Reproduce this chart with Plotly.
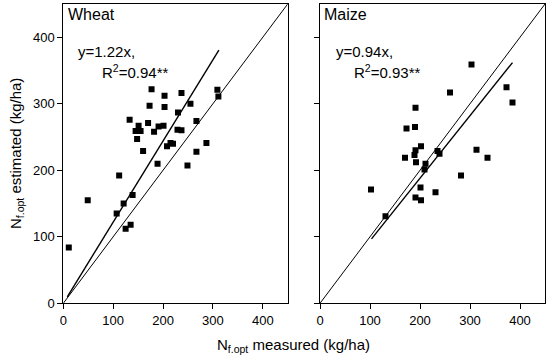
import plotly.graph_objects as go

# ---- data ----
wheat_x = [177, 203, 237, 309, 311, 173, 203, 255, 230, 133, 151, 170, 145, 155, 182, 191, 201,
           267, 229, 237, 148, 215, 220, 208, 287, 160, 267, 189, 249, 112, 139, 121, 107, 135,
           125, 49, 11]
wheat_y = [322, 312, 316, 321, 311, 297, 295, 300, 287, 276, 267, 271, 259, 259, 258, 266, 267,
           274, 261, 260, 247, 241, 240, 236, 241, 229, 228, 210, 207, 192, 163, 150, 135, 118,
           112, 155, 84]
maize_x = [303, 260, 373, 385, 191, 173, 190, 202, 191, 189, 170, 192, 211, 209, 235, 239, 313,
           335, 282, 102, 201, 231, 191, 202, 131]
maize_y = [359, 317, 325, 302, 294, 263, 265, 236, 230, 223, 219, 212, 210, 201, 229, 225, 231,
           219, 192, 171, 174, 167, 159, 155, 131]

wheat_slope = 1.22
maize_slope = 0.94
wheat_fit_range = [8, 312]
maize_fit_range = [103, 385]
one_to_one = [0, 450]

ticks = [0, 100, 200, 300, 400]
tick_labels = ["0", "100", "200", "300", "400"]

FONT = "Liberation Sans, Arial, sans-serif"

fig = go.Figure()

def add_panel(xs, ys, slope, fit_range, xa, ya):
    # 1:1 line
    fig.add_trace(go.Scatter(x=one_to_one, y=one_to_one, mode="lines",
                             line=dict(color="black", width=1),
                             xaxis=xa, yaxis=ya, showlegend=False, hoverinfo="skip"))
    # regression line
    fig.add_trace(go.Scatter(x=fit_range, y=[slope * v for v in fit_range], mode="lines",
                             line=dict(color="black", width=1.4),
                             xaxis=xa, yaxis=ya, showlegend=False, hoverinfo="skip"))
    fig.add_trace(go.Scatter(x=xs, y=ys, mode="markers",
                             marker=dict(symbol="square", size=6, color="black",
                                         line=dict(width=0)),
                             xaxis=xa, yaxis=ya, showlegend=False))

add_panel(wheat_x, wheat_y, wheat_slope, wheat_fit_range, "x", "y")
add_panel(maize_x, maize_y, maize_slope, maize_fit_range, "x2", "y2")

axis_common = dict(range=[0, 450], showline=True, mirror=True, linecolor="black", linewidth=1,
                   ticks="outside", ticklen=5, tickcolor="black", tickwidth=1,
                   tickvals=ticks, ticktext=tick_labels, showgrid=False, zeroline=False,
                   automargin=False,
                   tickfont=dict(family=FONT, size=13, color="black"))

ydom = [(356 - 303.3) / 356, (356 - 4) / 356]
fig.update_layout(
    template="none",
    width=550, height=356,
    margin=dict(l=0, r=0, t=0, b=0, pad=0),
    paper_bgcolor="white", plot_bgcolor="white",
    xaxis=dict(domain=[63.3 / 550, 287.7 / 550], anchor="y", **axis_common),
    yaxis=dict(domain=ydom, anchor="x", **axis_common),
    xaxis2=dict(domain=[320 / 550, 545 / 550], anchor="y2", **axis_common),
    yaxis2=dict(domain=ydom, anchor="x2", showticklabels=False, **axis_common),
)

ann = []
ann.append(dict(text="Wheat", xref="x domain", yref="y domain", x=0.01, y=1.0,
                xanchor="left", yanchor="top", showarrow=False,
                font=dict(family=FONT, size=16, color="black")))
ann.append(dict(text="Maize", xref="x2 domain", yref="y2 domain", x=0.01, y=1.0,
                xanchor="left", yanchor="top", showarrow=False,
                font=dict(family=FONT, size=16, color="black")))
ann.append(dict(text="y=1.22x,", xref="x", yref="y", x=25, y=378,
                xanchor="left", yanchor="middle", showarrow=False,
                font=dict(family=FONT, size=15, color="black")))
ann.append(dict(text="R<sup>2</sup>=0.94**", xref="x", yref="y", x=73, y=348,
                xanchor="left", yanchor="middle", showarrow=False,
                font=dict(family=FONT, size=15, color="black")))
ann.append(dict(text="y=0.94x,", xref="x2", yref="y2", x=27, y=378,
                xanchor="left", yanchor="middle", showarrow=False,
                font=dict(family=FONT, size=15, color="black")))
ann.append(dict(text="R<sup>2</sup>=0.93**", xref="x2", yref="y2", x=63, y=348,
                xanchor="left", yanchor="middle", showarrow=False,
                font=dict(family=FONT, size=15, color="black")))
ann.append(dict(text="N<sub>f.opt</sub> measured (kg/ha)", xref="paper", yref="paper",
                x=293 / 550, y=(356 - 345) / 356, xanchor="center", yanchor="middle",
                showarrow=False, font=dict(family=FONT, size=15, color="black")))
ann.append(dict(text="N<sub>f.opt</sub> estimated (kg/ha)", xref="paper", yref="paper",
                x=17 / 550, y=(356 - 154) / 356, xanchor="center", yanchor="middle",
                textangle=-90, showarrow=False,
                font=dict(family=FONT, size=15, color="black")))
fig.update_layout(annotations=ann)

css_js = (
    "var h=document.documentElement,b=document.body;"
    "[h,b].forEach(function(e){e.style.margin='0';e.style.padding='0';"
    "e.style.height='356px';e.style.width='550px';e.style.overflow='hidden';});"
)
fig.write_html("out.html", config={"displayModeBar": False}, post_script=css_js)
